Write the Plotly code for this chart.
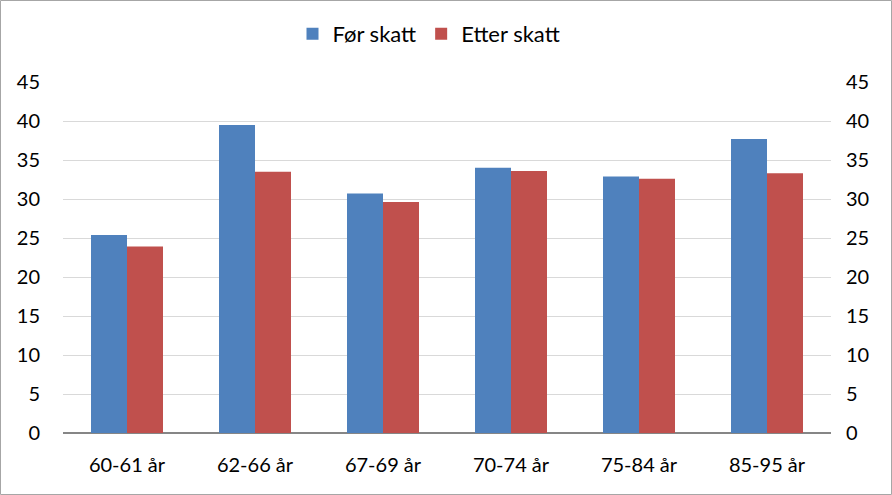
import plotly.graph_objects as go

categories = ["60-61 år", "62-66 år", "67-69 år", "70-74 år", "75-84 år", "85-95 år"]
for_skatt = [25.4, 39.5, 30.7, 34.0, 32.9, 37.7]
etter_skatt = [23.9, 33.5, 29.6, 33.6, 32.6, 33.3]
y_ticks = [0, 5, 10, 15, 20, 25, 30, 35, 40, 45]

W, H = 892, 495
L, R, T, B = 63, 61, 82, 62
pw, ph = W - L - R, H - T - B

font = dict(family="Lato, Open Sans, sans-serif", size=20, color="#000000")

fig = go.Figure()
fig.add_trace(go.Bar(name="Før skatt", x=categories, y=for_skatt, marker_color="#4F81BD",
                     marker_line_width=0))
fig.add_trace(go.Bar(name="Etter skatt", x=categories, y=etter_skatt, marker_color="#C0504D",
                     marker_line_width=0))
fig.add_trace(go.Scatter(x=categories, y=for_skatt, yaxis="y2", mode="markers",
                         marker=dict(opacity=0), showlegend=False, hoverinfo="skip"))

fig.update_layout(
    width=W, height=H,
    margin=dict(l=L, r=R, t=T, b=B),
    paper_bgcolor="white", plot_bgcolor="white",
    font=font,
    barmode="group", bargap=0.4375, bargroupgap=0,
    legend=dict(orientation="h", x=0.5 - 18 / pw, xanchor="center", y=1 + 48 / ph,
                yanchor="middle", font=dict(size=22), itemwidth=30, traceorder="normal"),
    xaxis=dict(showgrid=False, showline=False, ticks="", ticklabelstandoff=18,
               tickfont=dict(size=20)),
    yaxis=dict(range=[0, 45], tickvals=y_ticks, showgrid=True, gridcolor="#D9D9D9",
               gridwidth=1, zeroline=True, zerolinecolor="#868686", zerolinewidth=1.5,
               showline=False, ticks="", ticklabelstandoff=22, tickfont=dict(size=20)),
    yaxis2=dict(range=[0, 45], tickvals=y_ticks, overlaying="y", side="right",
                showgrid=False, zeroline=False, showline=False, ticks="",
                ticklabelstandoff=14, tickfont=dict(size=20)),
    shapes=[dict(type="rect", xref="paper", yref="paper",
                 x0=(0.5 - L) / pw, x1=(W - 0.5 - L) / pw,
                 y0=-(B - 0.5) / ph, y1=1 + (T - 0.5) / ph,
                 line=dict(color="#A6A6A6", width=1))],
)

fig.write_html("out.html")
